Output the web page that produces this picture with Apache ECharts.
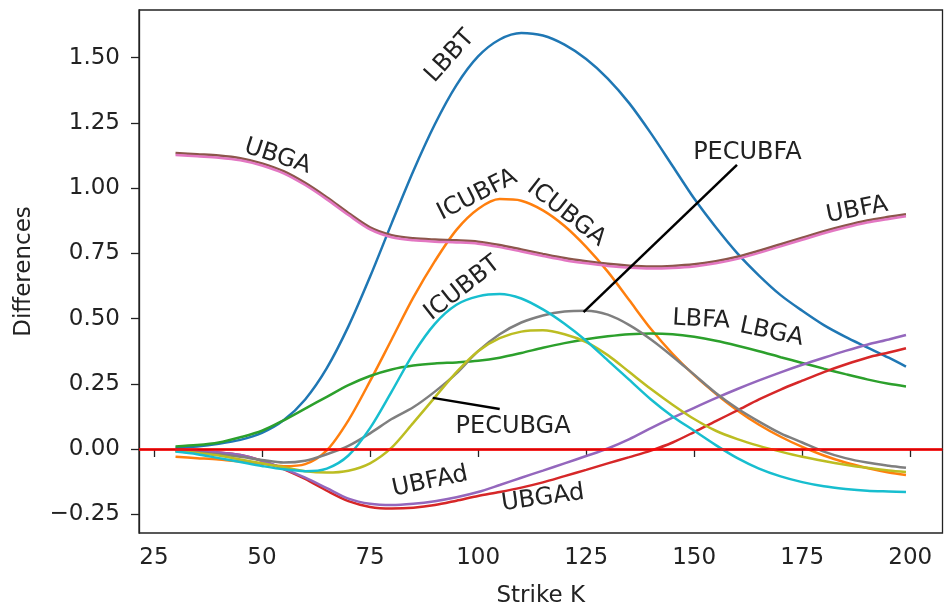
<!DOCTYPE html>
<html>
<head>
<meta charset="utf-8">
<script src="https://cdn.jsdelivr.net/npm/echarts@6/dist/echarts.min.js"></script>
<style>
html,body{margin:0;padding:0;background:#fff;}
#main{width:944px;height:615px;}
</style>
</head>
<body>
<div id="main"></div>
<script>
// strike grid
var strikes = [30,35,40,45,50,55,60,65,70,75,80,85,90,95,100,105,110,115,120,125,130,135,140,145,150,155,160,165,170,175,180,185,190,195,199];

// curves
var lbbt    = [0.005,0.01,0.02,0.035,0.062,0.11,0.19,0.31,0.47,0.66,0.865,1.065,1.245,1.395,1.505,1.57,1.595,1.585,1.55,1.495,1.42,1.325,1.21,1.085,0.96,0.85,0.75,0.665,0.59,0.53,0.475,0.43,0.39,0.35,0.316];
var icubfa  = [-0.03,-0.035,-0.04,-0.048,-0.057,-0.066,-0.058,-0.005,0.11,0.26,0.42,0.58,0.72,0.84,0.92,0.958,0.952,0.915,0.855,0.775,0.68,0.57,0.46,0.365,0.283,0.212,0.148,0.093,0.047,0.008,-0.025,-0.052,-0.073,-0.09,-0.1];
var lbfa    = [0.01,0.015,0.025,0.045,0.07,0.11,0.155,0.2,0.245,0.28,0.305,0.32,0.328,0.332,0.338,0.35,0.368,0.388,0.406,0.421,0.432,0.44,0.443,0.44,0.43,0.415,0.396,0.375,0.352,0.33,0.308,0.287,0.267,0.25,0.24];
var ubgad   = [-0.005,-0.008,-0.013,-0.023,-0.045,-0.077,-0.115,-0.16,-0.2,-0.222,-0.228,-0.225,-0.215,-0.198,-0.18,-0.165,-0.148,-0.128,-0.104,-0.08,-0.055,-0.031,-0.006,0.025,0.065,0.107,0.148,0.19,0.228,0.262,0.295,0.324,0.35,0.37,0.386];
var ubfad   = [-0.005,-0.008,-0.013,-0.023,-0.045,-0.075,-0.11,-0.15,-0.19,-0.21,-0.215,-0.21,-0.2,-0.185,-0.165,-0.138,-0.11,-0.083,-0.055,-0.027,0.002,0.038,0.08,0.12,0.158,0.195,0.23,0.263,0.294,0.323,0.35,0.376,0.4,0.42,0.437];
var ubfa    = [1.135,1.13,1.125,1.115,1.095,1.065,1.02,0.965,0.905,0.85,0.82,0.808,0.803,0.8,0.795,0.782,0.765,0.748,0.732,0.72,0.71,0.703,0.7,0.702,0.708,0.72,0.737,0.76,0.785,0.81,0.835,0.857,0.876,0.89,0.9];
var ubga    = [1.127,1.122,1.117,1.107,1.087,1.057,1.012,0.957,0.897,0.842,0.812,0.8,0.795,0.792,0.787,0.774,0.757,0.74,0.724,0.712,0.702,0.695,0.692,0.694,0.7,0.712,0.729,0.752,0.777,0.802,0.827,0.849,0.868,0.882,0.892];
var pecubfa = [-0.005,-0.012,-0.02,-0.03,-0.042,-0.052,-0.045,-0.02,0.012,0.06,0.115,0.16,0.22,0.29,0.375,0.44,0.485,0.512,0.527,0.53,0.515,0.475,0.42,0.355,0.285,0.215,0.155,0.105,0.06,0.025,-0.01,-0.035,-0.052,-0.064,-0.072];
var pecubga = [-0.01,-0.015,-0.025,-0.04,-0.055,-0.07,-0.085,-0.09,-0.083,-0.055,0.005,0.1,0.198,0.295,0.375,0.425,0.45,0.455,0.44,0.41,0.36,0.295,0.23,0.17,0.115,0.07,0.038,0.012,-0.01,-0.03,-0.046,-0.06,-0.072,-0.082,-0.088];
var icubbt  = [-0.01,-0.02,-0.035,-0.05,-0.065,-0.078,-0.085,-0.075,-0.025,0.08,0.22,0.365,0.48,0.553,0.585,0.594,0.577,0.535,0.48,0.415,0.34,0.265,0.19,0.125,0.07,0.015,-0.035,-0.075,-0.105,-0.127,-0.143,-0.153,-0.16,-0.163,-0.165];

// pointer lines for the two PEC labels
var pecubfaArrow = [[124.4,0.525],[159.9,1.089]];
var pecubgaArrow = [[89.5,0.196],[105,0.153]];

// tick labels
var xTicks = [25,50,75,100,125,150,175,200];
var yTicks = [-0.25,0,0.25,0.5,0.75,1,1.25,1.5];

// inline labels (text, x, y, angle)
var labelText = ['LBBT','UBGA','ICUBFA','ICUBGA','ICUBBT','PECUBFA','PECUBGA','LBFA','LBGA','UBFA','UBFAd','UBGAd'];
var labelX    = [93.5,53.6,99.8,120.4,96.4,162.3,108.1,151.6,167.9,187.7,88.9,115];
var labelY    = [1.505,1.121,0.974,0.904,0.616,1.134,0.086,0.495,0.447,0.916,-0.125,-0.189];
var labelRot  = [48,-18,27,-38,38,0,0,-3,-12,11,12,8];

var font = 'DejaVu Sans';

function curve(name, color, vals){
    return {
        name: name,
        type: 'line',
        data: strikes.map(function(x, i){ return [x, vals[i]]; }),
        symbol: 'none',
        smooth: 0.3,
        lineStyle: { color: color, width: 2.5 },
        itemStyle: { color: color },
        silent: true
    };
}
function pointer(pts){
    return {
        type: 'line',
        data: pts,
        symbol: 'none',
        z: 20,
        lineStyle: { color: '#000', width: 2.5 },
        silent: true
    };
}

var chart = echarts.init(document.getElementById('main'));
var option = {
    animation: false,
    backgroundColor: '#fff',
    grid: {
        left: 139, top: 10, right: 1.5, bottom: 82,
        show: true, borderColor: '#222', borderWidth: 1.3
    },
    xAxis: {
        type: 'value',
        min: 21.55, max: 207.45,
        name: 'Strike K', nameLocation: 'middle', nameGap: 52,
        nameTextStyle: { fontFamily: font, fontSize: 23, color: '#222' },
        axisLine: { show: true, lineStyle: { color: '#222', width: 1.3 } },
        axisTick: { show: true, length: 8, customValues: xTicks, lineStyle: { color: '#222', width: 1.3 } },
        axisLabel: { customValues: xTicks, margin: 14, fontFamily: font, fontSize: 23, color: '#222' },
        splitLine: { show: false }
    },
    yAxis: {
        type: 'value',
        min: -0.322, max: 1.683,
        name: 'Differences', nameLocation: 'middle', nameGap: 103,
        nameTextStyle: { fontFamily: font, fontSize: 23, color: '#222' },
        axisLine: { show: true, lineStyle: { color: '#222', width: 1.3 } },
        axisTick: { show: true, length: 8, customValues: yTicks, lineStyle: { color: '#222', width: 1.3 } },
        axisLabel: {
            customValues: yTicks, margin: 19, fontFamily: font, fontSize: 23, color: '#222',
            formatter: function(v){ return v.toFixed(2).replace('-', '\u2212'); }
        },
        splitLine: { show: false }
    },
    series: [
        curve('LBBT', '#1f77b4', lbbt),
        curve('ICUBFA', '#ff7f0e', icubfa),
        curve('LBFA', '#2ca02c', lbfa),
        curve('UBGAd', '#d62728', ubgad),
        curve('UBFAd', '#9467bd', ubfad),
        curve('UBFA', '#8c564b', ubfa),
        curve('UBGA', '#e377c2', ubga),
        curve('PECUBFA', '#7f7f7f', pecubfa),
        curve('PECUBGA', '#bcbd22', pecubga),
        curve('ICUBBT', '#17becf', icubbt),
        pointer(pecubfaArrow),
        pointer(pecubgaArrow),
        {
            // zero reference line
            type: 'line',
            data: [],
            z: 15,
            silent: true,
            markLine: {
                symbol: 'none',
                silent: true,
                label: { show: false },
                lineStyle: { color: '#ff0000', opacity: 0.8, width: 3, type: 'solid' },
                data: [{ yAxis: 0 }]
            }
        }
    ]
};
chart.setOption(option);

// inline labels placed in data coordinates
var texts = [];
for (var i = 0; i < labelText.length; i++) {
    var p = chart.convertToPixel({ gridIndex: 0 }, [labelX[i], labelY[i]]);
    texts.push({
        type: 'text',
        x: p[0], y: p[1],
        rotation: labelRot[i] * Math.PI / 180,
        z: 30,
        silent: true,
        style: {
            text: labelText[i],
            fontFamily: font, fontSize: 24,
            fill: '#222',
            align: 'center', verticalAlign: 'middle'
        }
    });
}
chart.setOption({ graphic: texts });
</script>
</body>
</html>
